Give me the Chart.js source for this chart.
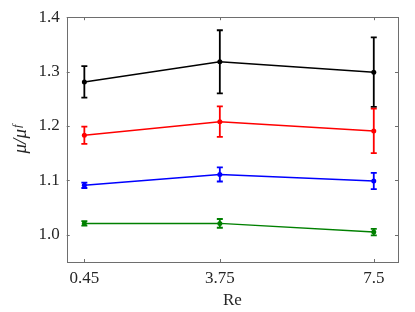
<!DOCTYPE html>
<html><head><meta charset="utf-8">
<script src="https://cdn.jsdelivr.net/npm/chart.js@4/dist/chart.umd.min.js"></script>
<style>html,body{margin:0;padding:0;background:#fff}#wrap{width:415px;height:312px}</style>
</head><body><div id="wrap"><canvas id="c" width="415" height="312"></canvas></div>
<script>
const reValues = [0.45, 3.75, 7.5];
const xTickLabels = ['0.45', '3.75', '7.5'];
const yTickValues = [1.0, 1.1, 1.2, 1.3, 1.4];
const blackMean = [1.281, 1.318, 1.299];
const blackErr  = [0.029, 0.058, 0.064];
const redMean   = [1.183, 1.208, 1.191];
const redErr    = [0.016, 0.028, 0.041];
const blueMean  = [1.091, 1.111, 1.099];
const blueErr   = [0.005, 0.013, 0.015];
const greenMean = [1.021, 1.021, 1.005];
const greenErr  = [0.004, 0.008, 0.006];

const SERIF = '"Liberation Serif", "DejaVu Serif", serif';
function mk(mean, err, color) {
  return {
    data: reValues.map((x, i) => ({x: x, y: mean[i]})),
    err: err,
    borderColor: color, backgroundColor: color,
    borderWidth: 1.5, pointRadius: 2.5, pointBorderWidth: 0,
    pointBackgroundColor: color, tension: 0
  };
}
const errPlugin = {
  id: 'err',
  beforeDatasetsDraw(chart) {
    const ctx = chart.ctx, xs = chart.scales.x, ys = chart.scales.y;
    chart.data.datasets.forEach(ds => {
      ctx.save();
      ctx.strokeStyle = ds.borderColor; ctx.lineWidth = 1.8;
      ds.data.forEach((p, i) => {
        const px = xs.getPixelForValue(p.x);
        const t = ys.getPixelForValue(p.y + ds.err[i]);
        const b = ys.getPixelForValue(p.y - ds.err[i]);
        ctx.beginPath();
        ctx.moveTo(px, t); ctx.lineTo(px, b);
        ctx.moveTo(px - 3, t); ctx.lineTo(px + 3, t);
        ctx.moveTo(px - 3, b); ctx.lineTo(px + 3, b);
        ctx.stroke();
      });
      ctx.restore();
    });
  },
  afterDraw(chart) {
    const ctx = chart.ctx, a = chart.chartArea, xs = chart.scales.x, ys = chart.scales.y;
    ctx.save();
    ctx.strokeStyle = '#6e6e6e'; ctx.lineWidth = 1;
    ctx.strokeRect(Math.round(a.left) + 0.5, Math.round(a.top) + 0.5, Math.round(a.right - a.left), Math.round(a.bottom - a.top));
    ctx.beginPath();
    const L = 3;
    xs.ticks.forEach(t => {
      const px = Math.round(xs.getPixelForValue(t.value)) + 0.5;
      ctx.moveTo(px, a.bottom); ctx.lineTo(px, a.bottom - L);
      ctx.moveTo(px, a.top); ctx.lineTo(px, a.top + L);
    });
    ys.ticks.forEach(t => {
      const py = Math.round(ys.getPixelForValue(t.value)) + 0.5;
      ctx.moveTo(a.left, py); ctx.lineTo(a.left + L, py);
      ctx.moveTo(a.right, py); ctx.lineTo(a.right - L, py);
    });
    ctx.stroke();
    ctx.restore();
  }
};

new Chart(document.getElementById('c'), {
  type: 'line',
  data: { datasets: [
    mk(blackMean, blackErr, '#000000'),
    mk(redMean, redErr, '#ff0000'),
    mk(blueMean, blueErr, '#0000ff'),
    mk(greenMean, greenErr, '#008000')
  ]},
  options: {
    responsive: false, animation: false, devicePixelRatio: 1,
    layout: { padding: { left: 0, right: 17, top: 12.7, bottom: 0 } },
    plugins: { legend: { display: false }, tooltip: { enabled: false } },
    scales: {
      x: {
        type: 'linear', min: 0.02, max: 8.09,
        afterBuildTicks: s => { s.ticks = reValues.map(v => ({value: v})); },
        afterFit: s => { s.height = 50; },
        grid: { display: false, drawTicks: false },
        border: { display: false },
        ticks: { padding: 6, color: '#262626', font: { family: SERIF, size: 17 },
          callback: (v) => xTickLabels[reValues.indexOf(v)] },
        title: { display: true, text: 'Re', color: '#262626', font: { family: SERIF, size: 17 }, padding: { top: 0, bottom: 1 } }
      },
      y: {
        min: 0.95, max: 1.4,
        afterBuildTicks: s => { s.ticks = yTickValues.map(v => ({value: v})); },
        afterFit: s => { s.width = 66.7; },
        grid: { display: false, drawTicks: false },
        border: { display: false },
        ticks: { padding: 7, color: '#262626', font: { family: SERIF, size: 17 },
          callback: v => v.toFixed(1) },
        title: { display: true, text: 'μ/μᶠ', color: '#262626', font: { family: SERIF, size: 19, style: 'italic' }, padding: { top: 10, bottom: 0 } }
      }
    }
  },
  plugins: [errPlugin]
});
</script></body></html>
